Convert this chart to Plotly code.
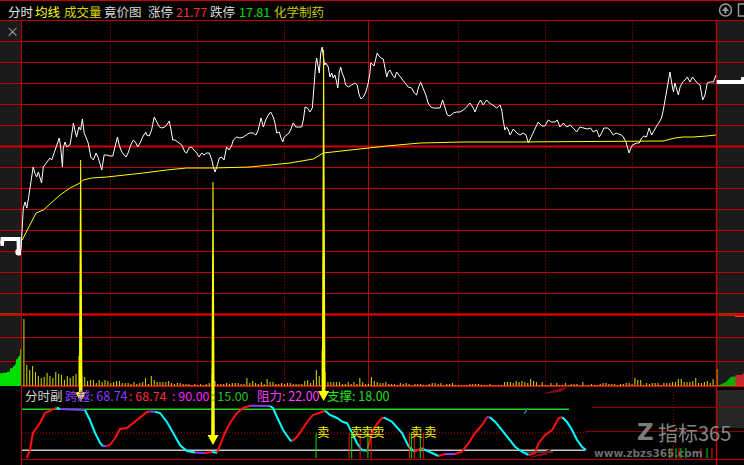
import plotly.graph_objects as go

W, H = 744, 465

# ---------------- data ----------------
stock_industry = "化学制药"
limit_up = 21.77
limit_down = 17.81

price_minute = [
    0, 0.6, 0.8, 1.4, 2.0, 2.5, 3.1, 3.7, 4.2, 4.8,
    5.4, 6.0, 7.1, 7.7, 8.9, 10.0, 10.6, 11.2, 11.7, 12.3,
    13.2, 13.7, 14.3, 14.6, 15.2, 15.8, 16.9, 17.5, 18.1, 18.6,
    19.2, 20.0, 20.6, 21.2, 21.8, 22.4, 23.2, 24.1, 25.0, 25.9,
    26.7, 27.9, 28.7, 29.6, 30.7, 31.7, 32.5, 33.3, 33.9, 34.8,
    35.6, 36.3, 37.1, 37.9, 38.8, 39.7, 40.3, 41.1, 42.0, 43.1,
    43.4, 44.3, 45.1, 46.0, 46.9, 47.8, 48.6, 49.7, 50.3, 51.2,
    51.7, 52.4, 53.2, 54.3, 55.5, 56.6, 57.2, 58.0, 58.9, 59.7,
    60.7, 61.5, 62.4, 63.2, 64.1, 65.0, 65.9, 66.4, 67.0, 67.6,
    68.5, 69.3, 70.1, 71.0, 71.9, 72.8, 73.3, 74.5, 75.6, 76.8,
    77.9, 78.8, 80.2, 81.1, 81.9, 82.9, 83.7, 84.5, 85.4, 86.2,
    87.1, 87.7, 88.3, 89.2, 89.7, 90.4, 90.9, 91.8, 92.6, 93.5,
    94.0, 94.9, 95.8, 96.9, 97.5, 98.1, 98.9, 99.8, 100.6, 101.2,
    101.8, 102.1, 102.6, 103.0, 103.5, 104.0, 104.4, 104.9, 105.3, 106.1,
    106.7, 107.3, 107.8, 108.4, 109.0, 109.4, 109.9, 110.4, 110.9, 111.6,
    112.1, 113.0, 114.2, 115.3, 116.1, 116.8, 117.4, 118.2, 119.1, 119.9,
    120.5, 120.8, 121.3, 121.9, 122.5, 123.0, 123.6, 124.3, 125.1, 125.7,
    126.3, 126.8, 127.4, 128.3, 129.1, 129.7, 130.5, 131.5, 132.6, 133.7,
    134.9, 135.8, 136.6, 137.2, 138.0, 138.9, 139.8, 140.6, 141.5, 142.4,
    143.5, 144.7, 145.6, 146.4, 147.2, 148.1, 149.3, 150.4, 151.6, 152.7,
    153.9, 155.0, 156.0, 156.8, 157.7, 158.7, 159.6, 160.8, 161.7, 162.9,
    164.3, 165.4, 166.0, 166.5, 167.1, 167.7, 168.3, 168.9, 170.0, 171.2,
    172.3, 173.4, 174.4, 175.2, 176.0, 176.9, 177.8, 178.6, 179.8, 180.9,
    182.1, 183.2, 184.4, 185.2, 186.1, 187.3, 188.4, 189.6, 190.7, 191.9,
    193.0, 194.2, 195.5, 196.7, 197.6, 198.8, 199.7, 200.5, 201.3, 202.5,
    203.4, 204.5, 205.5, 206.3, 207.4, 208.2, 208.9, 209.4, 210.0, 210.6,
    211.2, 212.6, 213.5, 214.3, 215.1, 216.0, 216.9, 217.8, 218.6, 219.5,
    220.4, 221.2, 221.8, 222.4, 223.0, 223.5, 224.1, 224.7, 225.3, 225.8,
    226.4, 227.0, 227.6, 228.5, 229.3, 230.1, 231.0, 231.9, 232.7, 233.5,
    234.5, 235.4, 236.2, 237.0, 237.9, 239.1, 240.0,
]
price_value = [
    18.76, 19.06, 19.18, 19.24, 19.18, 19.26, 19.39, 19.49, 19.59, 19.53,
    19.49, 19.54, 19.43, 19.59, 19.64, 19.68, 19.66, 19.71, 19.74, 19.81,
    19.88, 19.79, 19.59, 19.78, 19.84, 19.79, 19.81, 19.91, 20.03, 19.96,
    19.89, 19.99, 19.96, 20.07, 19.93, 19.89, 19.83, 19.69, 19.66, 19.73,
    19.68, 19.56, 19.71, 19.71, 19.70, 19.70, 19.79, 19.89, 19.81, 19.74,
    19.71, 19.69, 19.74, 19.81, 19.86, 19.83, 19.79, 19.83, 19.89, 19.94,
    19.91, 19.90, 19.96, 20.09, 20.04, 19.99, 19.98, 19.99, 20.01, 20.05,
    19.98, 19.86, 19.86, 19.84, 19.81, 19.74, 19.73, 19.78, 19.79, 19.76,
    19.73, 19.69, 19.73, 19.71, 19.73, 19.73, 19.66, 19.59, 19.54, 19.59,
    19.68, 19.69, 19.66, 19.79, 19.76, 19.81, 19.86, 19.89, 19.88, 19.89,
    19.91, 19.93, 19.93, 19.91, 19.96, 20.08, 19.99, 20.06, 20.11, 20.14,
    20.09, 20.03, 19.93, 19.94, 19.89, 19.84, 19.89, 19.91, 19.93, 19.99,
    20.03, 19.99, 19.99, 19.99, 20.06, 20.19, 20.18, 20.14, 20.18, 20.43,
    20.63, 20.68, 20.59, 20.53, 20.73, 20.79, 20.69, 20.61, 20.63, 20.59,
    20.49, 20.53, 20.48, 20.51, 20.44, 20.38, 20.54, 20.59, 20.53, 20.48,
    20.41, 20.39, 20.41, 20.43, 20.41, 20.31, 20.27, 20.29, 20.34, 20.43,
    20.53, 20.63, 20.62, 20.60, 20.67, 20.73, 20.70, 20.68, 20.67, 20.56,
    20.49, 20.54, 20.56, 20.51, 20.48, 20.54, 20.51, 20.48, 20.44, 20.39,
    20.38, 20.33, 20.31, 20.38, 20.44, 20.38, 20.31, 20.23, 20.19, 20.18,
    20.18, 20.18, 20.26, 20.17, 20.11, 20.10, 20.13, 20.14, 20.14, 20.16,
    20.19, 20.23, 20.19, 20.14, 20.21, 20.26, 20.21, 20.26, 20.23, 20.21,
    20.18, 20.21, 20.16, 20.06, 19.96, 19.99, 19.96, 19.91, 19.97, 19.93,
    19.91, 19.93, 19.91, 19.83, 19.88, 19.93, 19.99, 20.04, 20.00, 20.00,
    20.06, 20.04, 20.04, 20.06, 19.99, 20.03, 19.99, 20.01, 19.98, 19.94,
    19.99, 19.98, 19.97, 19.98, 19.94, 19.96, 19.89, 19.93, 19.98, 19.98,
    19.96, 19.91, 19.93, 19.92, 19.91, 19.88, 19.84, 19.79, 19.73, 19.78,
    19.81, 19.83, 19.83, 19.88, 19.90, 19.89, 19.98, 19.91, 19.96, 20.00,
    20.04, 20.08, 20.16, 20.26, 20.39, 20.47, 20.54, 20.43, 20.34, 20.43,
    20.36, 20.31, 20.39, 20.44, 20.46, 20.49, 20.44, 20.49, 20.46, 20.43,
    20.41, 20.26, 20.31, 20.43, 20.44, 20.44, 20.51,
]

avg_minute = [0.4, 5.2, 7.7, 13.5, 16.9, 20.4, 21.5, 24.4, 29.6, 36.5,
              42.2, 50.3, 57.2, 66.4, 74.5, 79.1, 92.9, 100.9, 104.4, 119.9,
              126.3, 137.8, 152.7, 165.4, 171.6, 221.7, 225.8, 228.6, 232.0, 236.8,
              240.0]
avg_value = [18.86, 19.13, 19.16, 19.31, 19.38, 19.43, 19.46, 19.48, 19.49, 19.51,
             19.53, 19.56, 19.58, 19.58, 19.59, 19.59, 19.63, 19.67, 19.73, 19.78,
             19.80, 19.83, 19.84, 19.84, 19.84, 19.85, 19.88, 19.89, 19.89, 19.90,
             19.91]

vol_minute = list(range(1, 241))
volume = [
    67, 21, 16, 20, 14, 10, 8, 9, 13, 10,
    8, 14, 12, 11, 6, 10, 8, 10, 12, 30,
    11, 9, 5, 6, 6, 3, 6, 4, 6, 5,
    3, 4, 5, 5, 3, 3, 3, 2, 4, 2,
    3, 4, 8, 2, 10, 6, 4, 4, 4, 4,
    5, 3, 2, 3, 3, 2, 2, 2, 1, 2,
    1, 2, 1, 2, 3, 12, 5, 2, 2, 2,
    3, 2, 3, 3, 3, 2, 2, 8, 3, 5,
    3, 2, 4, 2, 7, 4, 4, 2, 2, 3,
    2, 3, 3, 2, 2, 2, 2, 5, 6, 3,
    6, 16, 10, 36, 14, 4, 4, 4, 4, 4,
    2, 2, 4, 2, 4, 2, 8, 4, 2, 2,
    9, 5, 4, 3, 3, 4, 2, 2, 2, 1,
    3, 2, 3, 2, 1, 2, 2, 2, 1, 1,
    2, 3, 3, 2, 3, 1, 2, 2, 3, 1,
    1, 1, 1, 1, 2, 2, 2, 2, 1, 1,
    1, 2, 1, 1, 1, 1, 4, 4, 4, 3,
    5, 4, 5, 4, 3, 7, 5, 4, 1, 4,
    1, 1, 3, 1, 3, 1, 1, 3, 1, 2,
    2, 2, 1, 4, 1, 1, 2, 1, 1, 2,
    3, 3, 2, 2, 2, 1, 2, 2, 3, 3,
    2, 8, 6, 6, 1, 3, 2, 3, 3, 3,
    1, 3, 3, 3, 4, 4, 7, 7, 4, 4,
    4, 5, 8, 3, 3, 4, 5, 3, 7, 1,
]

# call auction (left panel) and closing auction (right panel)
auction_t = [0, 1.5, 2, 18, 18.3]
auction_price = [18.82, 18.82, 18.87, 18.87, 18.76]
auction_final = 18.74
auction_vol = [12.7, 12.7, 12.7, 13.3, 13.3, 13.3, 13.3, 14.3, 14.3, 14.3, 17.7,
               17.7, 17.7, 20, 20, 22, 26.7, 27, 29.3, 30.3, 36.7]
close_t = [0, 26, 26.5, 27.5]
close_price = [20.44, 20.44, 20.47, 20.47]
close_vol = [17, 0, 1, 1, 1.5, 2, 2.5, 3, 3.5, 4, 5, 6, 7, 8, 9, 9.3, 9.3, 9.3, 9.3,
             11, 11, 11, 11, 11, 11, 11, 12, 13.3]
close_vol_side = ["n"] + ["b"] * 18 + ["s"] * 9

# sub indicator
ind_minute = [
    2.0, 3.1, 4.1, 6.6, 8.3, 10.0, 12.3, 13.5, 17.0, 20.4,
    22.1, 23.8, 25.6, 27.3, 28.3, 29.4, 30.7, 32.5, 34.2, 36.6,
    38.7, 41.1, 43.5, 44.5, 46.3, 48.0, 50.4, 52.5, 54.9, 57.3,
    60.1, 63.5, 66.0, 67.7, 68.7, 70.4, 72.2, 74.6, 76.7, 79.1,
    82.5, 86.0, 87.0, 88.4, 90.5, 92.9, 93.6, 95.3, 96.3, 98.8,
    100.8, 103.3, 105.0, 106.7, 109.1, 111.2, 112.6, 114.3, 116.0, 117.7,
    119.5, 120.5, 121.2, 122.2, 124.0, 125.2, 128.1, 131.6, 133.9, 136.0,
    138.5, 139.5, 144.2, 146.4, 149.9, 152.3, 154.6, 156.8, 159.2, 160.9,
    161.9, 163.7, 166.1, 168.4, 170.6, 173.0, 175.3, 177.5, 178.8, 181.0,
    183.4, 185.7, 186.9, 188.5, 190.3, 192.0, 193.7, 195.1,
]
ind_value = [
    1.0, 15.6, 46.7, 64.9, 83.2, 87.4, 92.9, 90.5, 89.5, 89.0,
    88.5, 70.4, 46.7, 28.4, 22.9, 22.6, 24.7, 37.5, 54.0, 55.8,
    64.9, 75.9, 85.1, 86.0, 85.6, 83.2, 66.8, 46.7, 24.7, 13.7,
    11.0, 10.1, 11.9, 10.6, 24.7, 46.7, 64.9, 83.2, 92.4, 96.6,
    96.6, 96.0, 92.4, 75.9, 52.1, 33.9, 32.0, 39.4, 46.7, 66.8,
    79.6, 85.1, 87.4, 79.6, 74.1, 66.8, 64.9, 46.7, 28.4, 15.6,
    14.3, 33.9, 46.7, 57.6, 70.4, 75.4, 67.3, 46.7, 21.6, 12.4,
    19.2, 15.6, 4.6, 8.2, 8.2, 12.4, 28.4, 46.7, 61.3, 75.4,
    75.6, 67.3, 52.1, 37.5, 21.6, 12.4, 6.4, 10.1, 28.4, 43.0,
    52.1, 74.1, 75.4, 67.3, 52.1, 33.9, 21.6, 15.6,
]
cross_value = 68.74
cross_value2 = 68.74
upper_level = 90.00
lower_level = 15.00
mid_level = 47.0
resist_value = 22.00
support_value = 18.00

sell_text_minute = [101.9, 113.3, 117.1, 120.9, 134.1, 138.9]
sell_line_minute = [101.9, 113.3, 114.2, 117.1, 119.8, 120.9, 134.1, 134.8, 135.8, 137.9, 138.9,
                    224.0, 224.8, 226.2, 227.2, 227.9, 229.6, 234.8, 236.9, 238.6]
sell_line_kind = ["g", "r", "g", "r", "g", "r", "r", "g", "r", "g", "r",
                  "g", "r", "g", "r", "g", "g", "r", "g", "r"]
sell_line_top = [47] * 11 + [19] * 9

arrow_minute = [20.6, 66.3, 104.5]
arrow_from_price = [19.66, 19.44, 20.76]
arrow_to_value = [103.4, 24.7, 105.2]

# ---------------- layout helpers ----------------
def PX(x):
    return x / W


def PY(y):
    return 1 - y / H


X_DOM = [PX(21), PX(716)]
X_RANGE = [0, 240]
PRICE_DOM = [PY(315), PY(21)]
PRICE_RANGE = [18.11, 21.05]
VOL_DOM = [PY(386), PY(315)]
VOL_RANGE = [0, 71]
IND_DOM = [PY(459), PY(386)]
IND_RANGE = [-0.9, 132.6]


def to_paper(v, dom, rng):
    return dom[0] + (v - rng[0]) / (rng[1] - rng[0]) * (dom[1] - dom[0])


FONT = "Noto Sans CJK SC, sans-serif"
GRID = "#c00000"

fig = go.Figure()

# main price + average
fig.add_trace(go.Scatter(x=price_minute, y=price_value, mode="lines",
                         line=dict(color="#ffffff", width=1), xaxis="x", yaxis="y",
                         hoverinfo="skip"))
fig.add_trace(go.Scatter(x=avg_minute, y=avg_value, mode="lines",
                         line=dict(color="#ffff00", width=1), xaxis="x", yaxis="y",
                         hoverinfo="skip"))
# volume
fig.add_trace(go.Bar(x=vol_minute, y=volume, width=0.38, marker=dict(color="#c8c800", line=dict(width=0)),
                     xaxis="x", yaxis="y2", hoverinfo="skip"))

# indicator curve, coloured by direction
def seg_col(dv, dm):
    s = dv / dm
    if s > 0.3:
        return "#ff1010"
    if s < -0.3:
        return "#00ffff"
    return "#8040ff"


groups = []
cur = None
for i in range(len(ind_minute) - 1):
    c = seg_col(ind_value[i + 1] - ind_value[i], ind_minute[i + 1] - ind_minute[i])
    if cur is None or cur[0] != c:
        cur = [c, [ind_minute[i]], [ind_value[i]]]
        groups.append(cur)
    cur[1].append(ind_minute[i + 1])
    cur[2].append(ind_value[i + 1])
for c, xs, ys in groups:
    fig.add_trace(go.Scatter(x=xs, y=ys, mode="lines", line=dict(color=c, width=2),
                             xaxis="x", yaxis="y3", hoverinfo="skip"))

# sell signal lines
for kind, col in (("g", "#00e000"), ("r", "#ff1010")):
    xs, ys = [], []
    for m, k, t in zip(sell_line_minute, sell_line_kind, sell_line_top):
        if k == kind:
            xs += [m, m, None]
            ys += [t, 0, None]
    fig.add_trace(go.Scatter(x=xs, y=ys, mode="lines", line=dict(color=col, width=1),
                             xaxis="x", yaxis="y3", hoverinfo="skip"))

# call auction panel
fig.add_trace(go.Bar(x=list(range(len(auction_vol))), y=auction_vol, width=1,
                     marker=dict(color="#00e000", line=dict(width=0)),
                     xaxis="x2", yaxis="y4", hoverinfo="skip"))
fig.add_trace(go.Scatter(x=auction_t, y=auction_price, mode="lines",
                         line=dict(color="#ffffff", width=4), xaxis="x2", yaxis="y5",
                         hoverinfo="skip"))
fig.add_trace(go.Scatter(x=[auction_t[-1]], y=[auction_final], mode="markers",
                         marker=dict(color="#ffffff", size=7), xaxis="x2", yaxis="y5",
                         hoverinfo="skip"))
# closing auction panel
side_col = {"n": "#c8c800", "b": "#00e000", "s": "#ff3030"}
fig.add_trace(go.Bar(x=[i + 0.5 for i in range(len(close_vol))], y=close_vol, width=1,
                     marker=dict(color=[side_col[s] for s in close_vol_side], line=dict(width=0)),
                     xaxis="x3", yaxis="y6", hoverinfo="skip"))
fig.add_trace(go.Scatter(x=close_t, y=close_price, mode="lines",
                         line=dict(color="#ffffff", width=4), xaxis="x3", yaxis="y7",
                         hoverinfo="skip"))

# ---------------- shapes ----------------
shapes = []


def rect(x0, y0, x1, y1, color, layer="below"):
    shapes.append(dict(type="rect", xref="paper", yref="paper", x0=PX(x0), x1=PX(x1),
                       y0=PY(y1), y1=PY(y0), fillcolor=color, line=dict(width=0), layer=layer))


def hline(y, x0=0, x1=W, color=GRID, width=1, dash="solid", layer="below"):
    shapes.append(dict(type="line", xref="paper", yref="paper", x0=PX(x0), x1=PX(x1),
                       y0=PY(y), y1=PY(y), line=dict(color=color, width=width, dash=dash), layer=layer))


def vline(x, y0, y1, color=GRID, width=1, dash="solid", layer="below"):
    shapes.append(dict(type="line", xref="paper", yref="paper", x0=PX(x), x1=PX(x),
                       y0=PY(y0), y1=PY(y1), line=dict(color=color, width=width, dash=dash), layer=layer))


rect(0, 21, 21, 386, "#1b1b1b")
rect(716, 21, 744, 386, "#1b1b1b")
rect(716, 390, 744, 428, "#262626")
# auction small strips
rect(0, 313, 20, 315.5, "#00d000")
rect(719, 313, 735, 316, "#00d000")
rect(735, 313, 744, 317, "#ff3030")

hline(0.5)
for y in [20.5, 41.5, 62.5, 83.5, 104.5, 125.5, 167.5, 188.5, 209.5, 230.5, 251.5,
          272.5, 293.5, 337.5, 361.5]:
    hline(y)
hline(146.5, width=2, color="#d00000")
hline(314.5, width=2.5, color="#d00000")
hline(386, width=2, color="#d00000", x0=21, x1=W)
hline(459.5, x0=21, x1=W)

vline(21.5, 20.5, 465)
vline(716.5, 20.5, 465, width=1.5)
vline(368.5, 20.5, 386)
for x in [110.5, 197.5, 284.5, 458.5, 545.5, 632.5]:
    vline(x, 20.5, 386, dash="1px,2px")

# indicator reference lines
shapes.append(dict(type="line", xref="paper", yref="y3", x0=PX(22), x1=PX(569), y0=upper_level,
                   y1=upper_level, line=dict(color="#20d020", width=1.5), layer="below"))
shapes.append(dict(type="line", xref="paper", yref="y3", x0=PX(22), x1=PX(585), y0=lower_level,
                   y1=lower_level, line=dict(color="#c8c8c8", width=1.5), layer="below"))
shapes.append(dict(type="line", xref="paper", yref="y3", x0=PX(22), x1=PX(589), y0=mid_level,
                   y1=mid_level, line=dict(color="#c00000", width=1, dash="1px,2px"), layer="below"))
# watermark residue
hline(407.5, x0=592, x1=W, color="#8a0000")
hline(431.5, x0=585, x1=W, color="#8a0000")
vline(673.5, 392, 455, color="#a00000", dash="1px,2px")
shapes.append(dict(type="path", xref="paper", yref="paper",
                   path=f"M {PX(541)},{PY(394)} L {PX(569)},{PY(386)} L {PX(561)},{PY(392)} Z",
                   fillcolor="#7a1010", line=dict(width=0), layer="above"))
shapes.append(dict(type="path", xref="paper", yref="paper",
                   path=f"M {PX(528)},{PY(458)} L {PX(553)},{PY(448)} L {PX(546)},{PY(455)} Z",
                   fillcolor="#7a1010", line=dict(width=0), layer="above"))
hline(452, x0=525, x1=553, color="#707070")
shapes.append(dict(type="line", xref="paper", yref="paper", x0=PX(524), x1=PX(528),
                   y0=PY(414), y1=PY(408), line=dict(color="#1a8090", width=1.5)))

# yellow arrows
mpp = (X_RANGE[1] - X_RANGE[0]) / (716 - 21)
for m, p0, v1 in zip(arrow_minute, arrow_from_price, arrow_to_value):
    yt = to_paper(p0, PRICE_DOM, PRICE_RANGE)
    ytip = to_paper(v1, IND_DOM, IND_RANGE)
    yh = ytip + 10 / H
    path = (f"M {m - 0.5 * mpp},{yt} L {m + 0.5 * mpp},{yt} L {m + 1.8 * mpp},{yh} "
            f"L {m + 5.5 * mpp},{yh} L {m},{ytip} L {m - 5.5 * mpp},{yh} L {m - 1.8 * mpp},{yh} Z")
    shapes.append(dict(type="path", xref="x", yref="paper", path=path, fillcolor="#ffff00",
                       line=dict(width=0), layer="above"))

# top-right icons
shapes.append(dict(type="circle", xref="paper", yref="paper", x0=PX(719.5), x1=PX(731.5),
                   y0=PY(16), y1=PY(4), line=dict(color="#9a9a9a", width=1.5)))
shapes.append(dict(type="path", xref="paper", yref="paper",
                   path=f"M {PX(722)},{PY(11)} L {PX(725.5)},{PY(6.5)} L {PX(729)},{PY(11)} Z",
                   fillcolor="#9a9a9a", line=dict(width=0)))
shapes.append(dict(type="rect", xref="paper", yref="paper", x0=PX(724.5), x1=PX(726.5),
                   y0=PY(13.5), y1=PY(10), fillcolor="#9a9a9a", line=dict(width=0)))
shapes.append(dict(type="rect", xref="paper", yref="paper", x0=PX(738.5), x1=PX(750),
                   y0=PY(16), y1=PY(4), line=dict(color="#9a9a9a", width=1.5)))

# ---------------- annotations ----------------
ann = []


def text(x, y, s, color, size=12, anchor="left", yanchor="middle", family=FONT):
    ann.append(dict(x=PX(x), y=PY(y), xref="paper", yref="paper", text=s, showarrow=False,
                    xanchor=anchor, yanchor=yanchor, font=dict(family=family, size=size, color=color)))


header = [(6, "分时", "#e6e6e6"), (33, "均线", "#ffff00"), (62, "成交量", "#d8d800"),
          (102, "竟价图", "#d8d8d8"), (146, "涨停", "#d8d8d8"), (174, f"{limit_up:.2f}", "#ff3030"),
          (208, "跌停", "#d8d8d8"), (237, f"{limit_down:.2f}", "#00e000"),
          (272, stock_industry, "#c8c800")]
for x, s, c in header:
    text(x, 11, s, c, size=12.5)

text(12, 31, "×", "#a8a8a8", size=13, anchor="center")

ind_header = [(22.5, "分时副", "#d0d0d0"), (63, f"跨越: {cross_value:.2f}", "#8a3cff"),
              (127, f": {cross_value2:.2f}", "#ff2a4a"), (170, f": {upper_level:.2f}", "#ff20ff"),
              (209, f": {lower_level:.2f}", "#20c020"), (255, f"阻力: {resist_value:.2f}", "#ff40ff"),
              (325, f"支撑: {support_value:.2f}", "#20e020")]
for x, s, c in ind_header:
    text(x, 395, s, c, size=12.5)

for m in sell_text_minute:
    ann.append(dict(x=m, y=mid_level + 3, xref="x", yref="y3", text="卖", showarrow=False,
                    xanchor="left", yanchor="middle", xshift=-1,
                    font=dict(family=FONT, size=12.5, color="#f0f000")))

# watermark
text(645, 432, "<b>Z</b>", "#7c7c7c", size=23, anchor="center", family="DejaVu Sans")
text(656, 432, "指标365", "#858585", size=20)
text(648, 453, "<b>www.zbzs365.com</b>", "#6c6c6c", size=10.5, anchor="center", family="DejaVu Sans")

# bottom (cut-off) text row
bottom = [(25, "分时运行", "#d0d0d0"), (72, "早盘:", "#4060ff"), (100, "21.30", "#00e0e0"),
          (140, ": 21.30", "#ff3030"), (180, "提示线:", "#ff5060"), (222, "20.80", "#ff80c0"),
          (253, "文化线:", "#e0e0e0"), (300, "20.00", "#20d020"), (337, "关键点:", "#ff4060"),
          (385, "20.50", "#ff60d0"), (422, ": 20.10", "#ff3030"), (462, "线:", "#4060ff"),
          (499, "19.90", "#ff9080"), (552, "上限:", "#e0e000"), (585, "21.00", "#ff40ff"),
          (632, "下限: 18.50", "#ff40ff")]
for x, s, c in bottom:
    text(x, 459.5, s, c, size=12, yanchor="top")

ax_off = dict(visible=False, showgrid=False, zeroline=False, fixedrange=True)
fig.update_layout(
    width=W, height=H, margin=dict(l=0, r=0, t=0, b=0),
    paper_bgcolor="#000000", plot_bgcolor="rgba(0,0,0,0)",
    showlegend=False, hovermode=False,
    xaxis=dict(domain=X_DOM, range=X_RANGE, anchor="y", **ax_off),
    yaxis=dict(domain=PRICE_DOM, range=PRICE_RANGE, anchor="x", **ax_off),
    yaxis2=dict(domain=VOL_DOM, range=VOL_RANGE, anchor="x", **ax_off),
    yaxis3=dict(domain=IND_DOM, range=IND_RANGE, anchor="x", **ax_off),
    xaxis2=dict(domain=[0, PX(21)], range=[-0.5, 20.5], anchor="y4", **ax_off),
    yaxis4=dict(domain=VOL_DOM, range=VOL_RANGE, anchor="x2", **ax_off),
    yaxis5=dict(domain=PRICE_DOM, range=PRICE_RANGE, anchor="x2", **ax_off),
    xaxis3=dict(domain=[PX(716.5), 1], range=[0, 27.5], anchor="y6", **ax_off),
    yaxis6=dict(domain=VOL_DOM, range=VOL_RANGE, anchor="x3", **ax_off),
    yaxis7=dict(domain=PRICE_DOM, range=PRICE_RANGE, anchor="x3", **ax_off),
    shapes=shapes, annotations=ann,
)

fig.write_html("out.html", config={"displayModeBar": False, "staticPlot": True},
               post_script="document.body.style.margin='0';document.body.style.background='#000';")
